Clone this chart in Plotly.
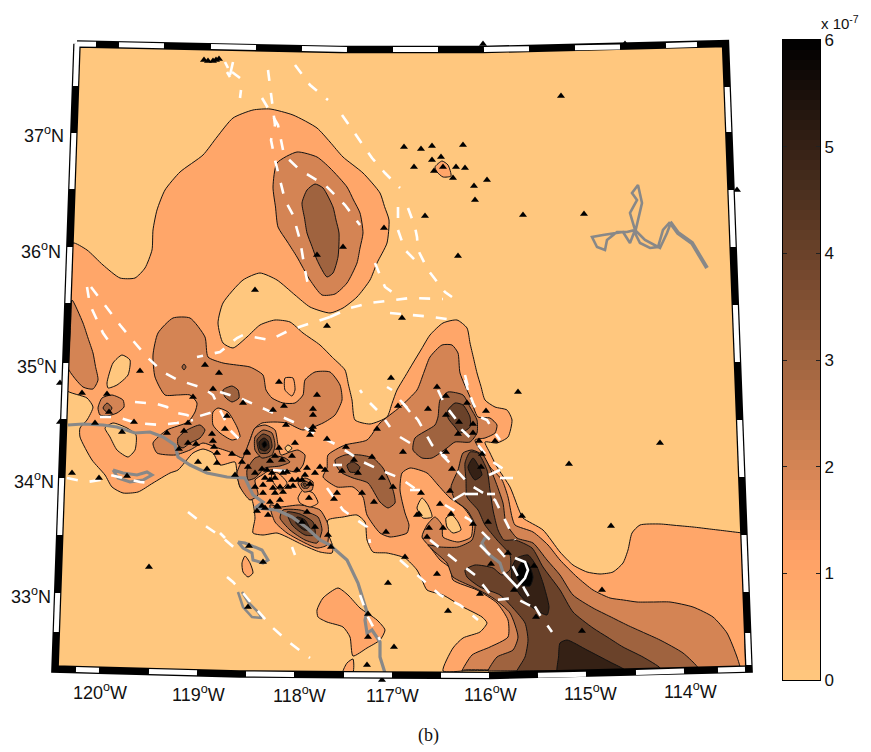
import numpy as np
import plotly.graph_objects as go

# All map geometry is in sheet grid coordinates (km east, km south of the sheet origin)
LON_LABELS = ["120", "119", "118", "117", "116", "115", "114"]
LON_LABEL_E = [100, 198, 299, 392, 490, 590, 690]
LON_LABEL_S = [691, 693, 694, 694, 693, 692, 690]
LAT_LABELS = ["37", "36", "35", "34", "33"]
LAT_LABEL_E = [65, 62, 58, 55, 52]
LAT_LABEL_S = [134, 250, 365, 480, 595]
CBAR_TICKS = [0, 1, 2, 3, 4, 5, 6]

# filled contours: (level in 1e-7, outline), painted in this order
L1_MAIN = [(73,243),(87,250),(103,265),(120,278),(135,278),(145,268),(152,250),(153,230),(157,210),(165,190),(180,172),(203,155),(217,137),(233,118),(253,110),(270,109),(293,115),(317,128),(330,142),(343,157),(363,173),(380,193),(389,220),(387,243),(377,263),(370,280),(357,297),(343,308),(330,313),(310,307),(295,295),(277,280),(260,273),(243,280),(223,303),(218,323),(223,343),(233,348),(247,337),(260,325),(275,320),(290,322),(303,333),(320,345),(345,370),(352,400),(355,420),(370,424),(387,417),(397,390),(413,363),(430,335),(443,323),(457,320),(467,328),(470,343),(477,373),(485,400),(495,407),(507,410),(512,420),(508,437),(497,443),(485,442),(490,453),(497,467),(510,487),(519,510),(523,518),(543,530),(560,552),(573,565),(587,572),(600,574),(613,572),(623,563),(628,550),(632,533),(640,525),(660,524),(693,527),(743,533),(745,533),(745,668),(743,668),(443,671),(453,648),(463,638),(480,632),(487,623),(482,617),(463,607),(443,595),(427,590),(422,580),(417,570),(405,558),(387,553),(373,552),(367,540),(365,522),(357,515),(343,517),(328,520),(328,533),(333,547),(332,553),(320,552),(303,545),(287,537),(277,533),(263,535),(253,533),(255,518),(252,500),(240,487),(237,473),(235,462),(220,465),(213,453),(203,449),(193,453),(178,470),(170,473),(153,483),(138,492),(123,493),(112,487),(105,475),(92,460),(80,437),(80,428),(87,420),(93,407),(87,398),(66,390)]
L1_ISLE_A = [(435,167),(442,161),(448,165),(451,176),(443,177),(437,172)]
L1_ISLE_B = [(317,610),(323,598),(338,588),(348,595),(360,608),(377,620),(385,630),(380,640),(367,648),(353,656),(350,637),(343,627),(327,622),(318,617)]
L1_ISLE_C = [(343,672),(347,663),(353,659),(353,672)]
L1_ISLE_D = [(242,563),(245,556),(250,563),(253,573),(248,577),(243,572)]
L0_HOLE_A = [(107,383),(113,363),(122,355),(130,360),(128,375),(117,385),(108,388)]
L0_HOLE_B = [(105,428),(113,423),(127,428),(136,435),(135,450),(128,457),(117,450),(110,437)]
L2_WEST = [(72,300),(83,323),(93,353),(98,380),(93,389),(83,387),(68,368)]
L2_NORTH = [(273,187),(277,163),(297,152),(317,157),(330,168),(347,187),(360,213),(363,233),(357,263),(347,283),(335,294),(322,295),(310,280),(297,257),(278,227)]
L3_NORTH = [(302,203),(307,190),(315,184),(323,188),(333,207),(339,233),(338,257),(333,273),(327,277),(317,260),(307,233)]
L2_CENTRAL = [(153,355),(158,333),(173,318),(190,318),(205,337),(208,357),(223,363),(250,367),(263,375),(266,390),(272,398),(283,403),(295,403),(303,395),(305,380),(315,372),(330,372),(340,385),(342,400),(335,415),(323,423),(303,430),(287,423),(275,422),(262,423),(255,428),(250,440),(243,458),(230,452),(215,447),(203,443),(190,450),(175,455),(157,453),(153,443),(167,430),(188,422),(195,412),(197,403),(190,395),(165,395),(155,377)]
L1_TONGUE = [(213,412),(218,408),(228,412),(237,427),(240,437),(232,440),(220,433),(213,425)]
L1_POCKET = [(285,378),(285,390),(292,396),(295,390),(293,378)]
L2_CLUSTER = [(243,458),(250,440),(255,428),(265,425),(275,430),(278,445),(281,455),(290,452),(298,450),(305,455),(303,465),(297,472),(285,470),(270,470),(262,475),(255,480),(258,495),(250,500),(240,487),(237,473)]
L2_WEST_BLOB = [(98,408),(102,398),(112,395),(123,400),(124,407),(117,413),(107,416),(100,415)]
L3_WEST_BLOB = [(103,408),(107,403),(112,408),(108,413)]
L2_SOUTH = [(270,505),(280,507),(300,505),(320,510),(328,525),(327,545),(317,548),(305,543),(287,533),(275,522)]
L3_SOUTH = [(283,510),(300,510),(318,517),(322,530),(317,543),(305,540),(290,530),(280,518)]
L4_SOUTH = [(287,512),(300,514),(313,522),(315,535),(305,535),(292,525)]
L5_SOUTH = [(297,517),(305,520),(310,530),(304,530),(296,523)]
L2_EAST = [(380,423),(400,407),(417,390),(430,357),(442,345),(452,345),(458,353),(460,373),(470,397),(478,417),(490,418),(497,425),(495,433),(485,438),(475,440),(483,455),(490,467),(502,480),(508,497),(512,517),(515,525),(533,532),(548,545),(560,560),(577,577),(593,590),(610,598),(637,602),(670,602),(693,607),(713,617),(727,633),(737,657),(740,668),(738,669),(464,670),(462,671),(472,655),(490,647),(508,637),(508,620),(497,603),(477,590),(453,580),(450,568),(440,560),(430,547),(422,537),(427,525),(435,517),(442,525),(443,537),(458,542),(471,537),(472,520),(463,507),(450,498),(438,485),(427,473),(410,468),(402,473),(400,490),(405,513),(409,525),(407,533),(390,537),(380,533),(367,515),(363,497),(353,487),(337,487),(323,477),(327,468),(328,455),(345,445),(367,440)]
L0_HOLE_C = [(285,448),(288,445),(292,448),(288,452)]
L1_CENTRE = [(272,473),(278,473),(287,483),(280,490),(272,480)]
L1_CENTRE_B = [(298,498),(303,490),(313,493),(318,503),(310,507),(300,503)]
L0_HOLE_D = [(417,508),(422,498),(428,505),(432,517),(423,518)]
L0_HOLE_E = [(446,518),(452,515),(458,522),(461,530),(453,533),(447,527)]
L3_CLUSTER = [(247,470),(255,458),(270,455),(285,458),(290,462),(280,466),(265,468),(255,478),(248,480)]
L3_PEAK = [(255,437),(263,430),(272,433),(275,445),(272,455),(262,458),(255,450)]
L4_PEAK = [(257,440),(263,434),(270,437),(272,447),(268,453),(260,453)]
L5_PEAK = [(259,442),(264,438),(268,441),(269,448),(265,451),(260,449)]
L6_PEAK = [(262,444),(265,441),(267,445),(264,448)]
L2_KNOT = [(298,483),(305,478),(313,482),(312,490),(304,492)]
L3_KNOT = [(301,484),(305,481),(310,484),(308,488),(303,488)]
L4_KNOT = [(303,484),(305,483),(307,485),(305,487)]
L3_BLOB_A = [(223,390),(232,386),(238,390),(239,398),(232,402),(225,397)]
L3_BLOB_B = [(178,438),(187,430),(200,425),(205,430),(200,438),(190,443),(183,448),(178,445)]
L3_RING = [(182,367),(184,364),(186,367),(184,370)]
L3_LAKE = [(335,460),(345,455),(360,455),(373,458),(383,468),(393,490),(395,503),(388,508),(380,502),(368,483),(353,478),(342,473),(337,467)]
L4_LAKE = [(347,465),(353,462),(360,467),(357,472),(350,472)]
L3_NE = [(415,438),(435,425),(438,417),(440,400),(448,392),(463,395),(470,407),(477,420),(477,433),(470,442),(455,442),(447,448),(432,458),(422,458),(413,450)]
L4_NE = [(448,410),(455,403),(463,405),(470,417),(470,427),(460,433),(455,427),(448,418)]
L3_SE = [(463,453),(472,450),(483,455),(490,468),(495,480),(503,503),(506,523),(517,538),(533,543),(547,560),(560,575),(573,595),(593,608),(627,625),(660,640),(683,653),(698,668),(696,670),(490,671),(488,671),(497,657),(513,650),(518,637),(510,613),(493,598),(473,587),(453,577),(447,563),(435,552),(428,545),(440,547),(458,547),(472,540),(475,525),(467,510),(455,500),(451,487),(458,470)]
L4_SE = [(465,463),(470,452),(478,453),(487,470),(490,490),(493,510),(498,530),(504,540),(515,540),(532,548),(543,567),(560,590),(573,612),(593,628),(623,647),(643,657),(660,668),(658,670),(519,671),(517,671),(525,657),(528,640),(525,623),(513,608),(500,595),(480,587),(467,577),(465,570),(475,565),(493,568),(502,575),(510,570),(510,555),(497,540),(485,525),(478,510),(467,497),(466,480)]
L5_RIDGE = [(468,467),(473,458),(478,465),(482,475),(475,480),(470,473)]
L5_DOME = [(512,567),(517,558),(528,555),(537,567),(543,583),(549,607),(547,615),(533,608),(520,595),(512,580)]
L6_DOME = [(517,570),(522,562),(528,563),(533,577),(530,586),(522,585),(517,578)]
L5_BASE = [(557,671),(560,643),(567,640),(587,650),(610,662),(625,670),(623,671),(559,671)]

CONTOURS = [(1,L1_MAIN),(1,L1_ISLE_A),(1,L1_ISLE_B),(1,L1_ISLE_C),(1,L1_ISLE_D),(0,L0_HOLE_A),(0,L0_HOLE_B),
    (2,L2_WEST),(2,L2_NORTH),(3,L3_NORTH),(2,L2_CENTRAL),(1,L1_TONGUE),(1,L1_POCKET),(2,L2_CLUSTER),(2,L2_WEST_BLOB),(3,L3_WEST_BLOB),
    (2,L2_SOUTH),(3,L3_SOUTH),(4,L4_SOUTH),(5,L5_SOUTH),(2,L2_EAST),(0,L0_HOLE_C),(1,L1_CENTRE),(1,L1_CENTRE_B),(0,L0_HOLE_D),(0,L0_HOLE_E),
    (3,L3_CLUSTER),(3,L3_PEAK),(4,L4_PEAK),(5,L5_PEAK),(6,L6_PEAK),(2,L2_KNOT),(3,L3_KNOT),(4,L4_KNOT),(3,L3_BLOB_A),(3,L3_BLOB_B),(3,L3_RING),
    (3,L3_LAKE),(4,L4_LAKE),(3,L3_NE),(4,L4_NE),(3,L3_SE),(4,L4_SE),(5,L5_RIDGE),(5,L5_DOME),(6,L6_DOME),(5,L5_BASE)]

COAST = [(68,425),(83,424),(103,425),(117,427),(135,433),(150,432),(163,437),(175,445),(178,457),(190,465),(207,473),(227,477),(245,478),(253,495),(263,502),(255,508),(277,510),(292,517),(307,528),(320,540),(330,545),(347,560),(358,583),(367,612),(365,620),(367,633),(372,630),(380,642),(380,657),(385,673)]
ISLAND_A = [(113,470),(118,478),(130,482),(143,480),(152,475),(147,472),(137,475),(123,473),(113,470)]
ISLAND_B = [(238,542),(245,543),(262,550),(268,560),(263,563),(253,560),(252,553),(243,548),(238,542)]
ISLAND_C = [(238,592),(243,607),(252,617),(262,618),(258,612),(248,602),(242,592)]
SALTON = [(490,538),(485,538),(482,543),(487,553),(500,563),(503,572)]
RIVER_LOWER = [(707,268),(700,257),(692,243),(678,233),(670,222)]
RIVER_UPPER = [(670,222),(663,230),(658,247),(650,248),(640,243),(635,233),(642,203),(638,185),(632,193),(637,200),(630,213),(635,230),(630,243),(623,232),(603,235),(592,237),(597,247),(605,250),(607,240),(617,232),(627,232),(635,230),(645,240),(660,248),(667,233),(670,225)]

FAULT_LINES = [
 [(268,70),(272,100),(275,125),(271,140),(275,160),(280,180),(285,200),(293,215),(300,240),(305,270),(308,285)],
 [(295,65),(310,85),(328,100)],
 [(262,98),(272,115),(278,125),(281,140),(284,155),(300,170),(325,185),(345,205),(360,225)],
 [(342,115),(358,138),(372,158),(385,173),(400,188)],
 [(398,207),(398,230),(405,250),(420,265)],
 [(408,208),(415,227),(417,237),(418,250),(428,270),(445,292),(452,297)],
 [(375,263),(385,287),(392,292)],
 [(330,317),(350,308),(370,303),(392,300),(410,298),(443,299)],
 [(390,313),(410,315),(433,317),(453,320)],
 [(330,317),(290,330),(270,340),(243,335),(237,338),(220,352),(197,357)],
 [(87,287),(90,305),(97,320),(103,333),(113,347)],
 [(91,287),(108,310),(120,325),(135,343),(148,358),(163,372),(178,380),(203,388),(213,395),(220,410),(230,430),(245,445)],
 [(135,402),(157,404),(167,407),(172,412),(187,415),(193,418),(213,412)],
 [(100,417),(117,417),(137,423),(160,425),(177,423),(193,420)],
 [(67,478),(87,482),(100,480),(110,475),(123,478),(140,482),(153,483)],
 [(188,512),(207,527),(223,538),(237,550)],
 [(227,577),(233,582),(243,593),(257,610),(273,628),(290,643),(310,658)],
 [(360,595),(363,603),(368,617),(380,640)],
 [(220,392),(240,398),(260,407),(283,417),(300,425),(317,435),(337,445),(363,462),(380,470),(400,478),(417,490)],
 [(327,488),(343,510),(357,520),(367,527),(370,543)],
 [(465,375),(470,395),(473,403),(480,417),(487,420),(493,430),(500,440)],
 [(438,390),(445,405),(455,418),(462,430),(478,445),(490,460),(505,470)],
 [(400,400),(418,420),(432,445),(447,460),(470,485),(495,500),(515,540)],
 [(445,505),(470,520),(490,540),(512,565),(525,590),(540,615),(552,632)],
 [(430,540),(455,560),(475,575),(495,600),(515,598),(535,608)],
 [(400,560),(420,578),(440,595),(460,605),(478,620)],
]
FAULT_DASHES = [
 [(233,62),(230,75)],[(227,72),(230,77)],[(232,72),(240,78)],[(241,90),(240,98)],[(225,62),(228,68)],
 [(292,547),(295,555)],[(220,533),(225,538)],[(273,470),(287,471)],[(333,465),(342,465)],[(410,490),(420,490)],
 [(370,403),(377,410)],[(387,387),(392,390)],[(360,390),(362,393)],[(402,402),(410,412)],[(385,420),(390,427)],[(400,437),(410,443)],
 [(465,380),(468,390)],[(440,452),(447,458)],[(489,475),(500,470)],[(513,478),(500,478)],[(465,493),(453,500)],
 [(465,494),(478,494)],[(487,494),(495,494)],[(490,555),(480,545)],
 [(515,558),(525,562),(528,570),(525,578),(517,587),(510,580),(503,572)],
]
STATIONS = [(204,60),(208,61),(213,61),(216,60),(219,59),(404,147),(421,149),(432,146),(463,145),(441,157),(432,160),(414,167),(443,167),(434,171),(456,167),(465,168),(453,178),(487,180),(474,186),(475,200),(425,216),(523,215),(584,214),(561,96),(384,228),(343,247),(458,256),(402,318),(317,255),(255,290),(327,326),
 (140,371),(82,393),(107,394),(109,412),(95,423),(134,422),(122,432),(205,365),(219,373),(213,389),(193,397),(227,416),(243,403),(225,429),(188,423),(184,431),(167,433),(212,434),(213,441),(188,443),(196,444),(179,449),(214,447),(217,453),(232,454),(198,462),(217,463),(207,469),(242,462),(247,452),(248,467),(235,475),(99,478),(127,476),(72,473),(149,567),
 (279,382),(317,395),(313,409),(313,415),(273,410),(284,406),(286,425),(313,427),(312,430),(310,435),(327,439),(295,443),(346,447),(398,406),(377,429),(403,452),(372,457),(279,448),(247,453),(255,473),(270,461),(275,456),(282,460),(292,456),(307,468),(315,473),(320,467),(325,470),(354,460),(342,471),(358,473),(382,478),(393,487),(362,493),(337,493),(334,499),(374,502),(309,498),(386,532),(328,535),(315,527),(307,512),(331,547),(417,515),(302,522),
 (262,469),(267,470),(272,473),(265,478),(270,480),(275,478),(283,473),(287,472),(297,470),(305,475),(292,480),(298,480),(302,480),(263,485),(255,487),(273,488),(280,487),(288,487),(293,486),(310,484),(263,493),(275,493),(283,492),(270,502),(280,500),(262,506),(265,508),(277,506),(257,511),(268,515),(278,507),
 (391,378),(437,387),(446,396),(467,403),(486,411),(518,392),(428,409),(446,415),(459,422),(473,424),(458,434),(473,433),(479,441),(495,441),(446,452),(482,454),(481,467),(452,469),(569,464),(421,493),(450,491),(440,504),(419,514),(451,514),(473,524),(488,522),(429,528),(443,528),(427,537),(522,516),(508,553),(491,564),(534,566),(405,557),(437,574),(480,594),(514,590),(448,611),(536,617),(582,631),(611,526),(602,590),(660,443),
 (249,546),(263,562),(248,607),(388,583),(368,614),(368,637),(394,647),(367,665),(483,44),(625,44),(737,190),(60,383),(60,422),(382,680)]

FRAME_OUT = [(77,44),(210,46.5),(340,49.5),(483,49.5),(620,47),(725.5,43.5),(749,669),(560,675),(490,675.5),(380,675),(240,674),(55,669),(77,44)]
TOP_E = [77,210,340,483,620,725.5]; TOP_S = [44,46.5,49.5,49.5,47,43.5]
BOT_E = [55,240,380,490,560,749]; BOT_S = [669,674,675,675.5,675,669]
TOP_WHITE = [(77,96),(119,164),(211,256),(302,347),(393,438),(484,529),(575,620),(666,697)]
BOT_WHITE = [(76,99),(149,197),(246,294),(344,392),(441,489),(538,586),(636,684),(718,745)]
LEFT_WHITE = [(44,86),(133,189),(247,303),(363,419),(478,535),(593,632)]
RIGHT_WHITE = [(87,132),(190,247),(305,362),(420,477),(535,592),(633,665)]


def level_colour(v):
    f = 1 - v / 6
    return "rgb(%d,%d,%d)" % (255 * min(1, 1.25 * f), 255 * 0.7812 * f, 255 * 0.4975 * f)


def xy(pts):
    return [p[0] for p in pts], [p[1] for p in pts]


def densify(pts):
    """Split long edges so the smoothed outline stays straight along the sheet border."""
    out = []
    for (a, b), (c, d) in zip(pts, pts[1:]):
        n = int(max(abs(c - a), abs(d - b)) // 25) + 1
        out += [(a + (c - a) * i / n, b + (d - b) * i / n) for i in range(n)]
    return out + [pts[-1]]


fig = go.Figure()
fx, fy = xy(FRAME_OUT)
fig.add_trace(go.Scatter(x=fx, y=fy, mode="lines", fill="toself", fillcolor=level_colour(0), line=dict(width=0)))
for lev, poly in CONTOURS:
    x, y = xy(densify(poly + poly[:1]))
    fig.add_trace(go.Scatter(x=x, y=y, mode="lines", fill="toself", fillcolor=level_colour(lev),
                             line=dict(color="#111", width=1, shape="spline", smoothing=0.6)))

for pts, w in [(COAST, 3.2), (ISLAND_A, 3), (ISLAND_B, 3), (ISLAND_C, 2.5), (SALTON, 3), (RIVER_LOWER, 4), (RIVER_UPPER, 2.6)]:
    x, y = xy(pts)
    fig.add_trace(go.Scatter(x=x, y=y, mode="lines", line=dict(color="#888888", width=w)))


def breaks(groups):
    xs, ys = [], []
    for g in groups:
        a, b = xy(g)
        xs += a + [None]
        ys += b + [None]
    return xs, ys


x, y = breaks(FAULT_LINES)
fig.add_trace(go.Scatter(x=x, y=y, mode="lines", line=dict(color="white", width=2.6, dash="11px,12px")))
x, y = breaks(FAULT_DASHES)
fig.add_trace(go.Scatter(x=x, y=y, mode="lines", line=dict(color="white", width=2.6)))

x, y = xy(STATIONS)
fig.add_trace(go.Scatter(x=x, y=y, mode="markers", marker=dict(symbol="triangle-up", size=7, color="black", line=dict(width=0))))

# frame
fig.add_trace(go.Scatter(x=fx, y=fy, mode="lines", line=dict(color="black", width=7.5)))
wx, wy = [], []
for a, b in TOP_WHITE:
    wx += [a, b, None]; wy += [np.interp(a, TOP_E, TOP_S), np.interp(b, TOP_E, TOP_S), None]
for a, b in BOT_WHITE:
    wx += [a, b, None]; wy += [np.interp(a, BOT_E, BOT_S), np.interp(b, BOT_E, BOT_S), None]
for a, b in LEFT_WHITE:
    wy += [a, b, None]; wx += [np.interp(a, [44, 669], [77, 55]), np.interp(b, [44, 669], [77, 55]), None]
for a, b in RIGHT_WHITE:
    wy += [a, b, None]; wx += [np.interp(a, [43.5, 669], [725.5, 749]), np.interp(b, [43.5, 669], [725.5, 749]), None]
fig.add_trace(go.Scatter(x=wx, y=wy, mode="lines", line=dict(color="white", width=5)))

# colour bar
cb_vals = (np.arange(64) + 0.5) * 6 / 64
fig.add_trace(go.Heatmap(z=[[v] for v in cb_vals], x=[0], y=cb_vals, xaxis="x2", yaxis="y2", showscale=False,
                         zmin=0, zmax=6, hoverinfo="skip",
                         colorscale=[[i / 63, level_colour(v)] for i, v in enumerate((np.arange(64)) * 6 / 63)]))

TXT = dict(family="Liberation Sans", size=18, color="#111")
ann = []
for lab, e, s in zip(LON_LABELS, LON_LABEL_E, LON_LABEL_S):
    ann.append(dict(x=e, y=s, xref="x", yref="y", text=lab + "<sup>o</sup>W", showarrow=False, font=TXT, xanchor="center", yanchor="middle"))
for lab, e, s in zip(LAT_LABELS, LAT_LABEL_E, LAT_LABEL_S):
    ann.append(dict(x=e + 1, y=s, xref="x", yref="y", text=lab + "<sup>o</sup>N", showarrow=False, font=TXT, xanchor="right", yanchor="middle"))
ann.append(dict(x=428, y=735, xref="x", yref="y", text="(b)", showarrow=False, font=dict(family="Liberation Serif", size=18, color="#111")))
ann.append(dict(x=819, y=22, xref="x", yref="y", text="x 10<sup>-7</sup>", showarrow=False, xanchor="left", font=dict(family="Liberation Sans", size=15, color="#111")))

fig.update_layout(
    width=871, height=752, margin=dict(l=0, r=0, t=0, b=0, autoexpand=False), paper_bgcolor="white", plot_bgcolor="white",
    showlegend=False, hovermode=False, annotations=ann,
    xaxis=dict(range=[0, 871], visible=False, domain=[0, 1], fixedrange=True),
    yaxis=dict(range=[752, 0], visible=False, domain=[0, 1], fixedrange=True),
    xaxis2=dict(domain=[783 / 871, 820 / 871], anchor="y2", range=[-0.5, 0.5], showticklabels=False, ticks="", showline=True, linecolor="black", mirror=True, fixedrange=True),
    yaxis2=dict(domain=[(752 - 680) / 752, (752 - 40) / 752], anchor="x2", range=[0, 6], side="right", tickvals=CBAR_TICKS, ticks="inside", ticklen=4,
                tickcolor="#222", showline=True, linecolor="black", mirror="ticks", tickfont=dict(family="Liberation Sans", size=17, color="#111"), fixedrange=True, showgrid=False, zeroline=False),
)
fig.write_html("out.html", config=dict(displayModeBar=False),
               post_script="document.body.style.margin='0';document.body.style.overflow='hidden';")
